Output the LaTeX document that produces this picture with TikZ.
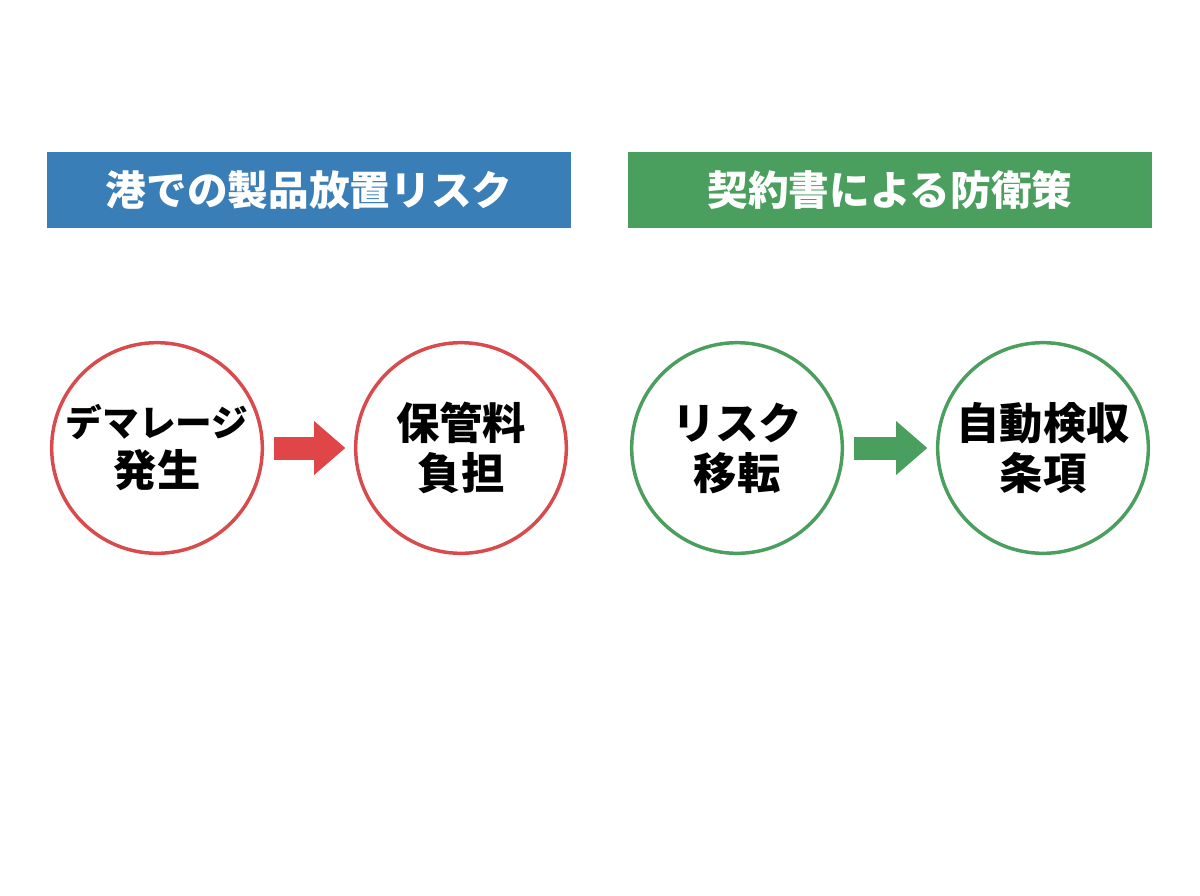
\documentclass[tikz,border=0pt]{standalone}
\usepackage{fontspec}
\setmainfont{Noto Sans CJK JP}
\usetikzlibrary{arrows.meta,positioning}
\definecolor{portblue}{HTML}{3A7EB7}
\definecolor{guardgreen}{HTML}{4A9E5E}
\definecolor{riskred}{HTML}{D94A4C}
\definecolor{arrowred}{HTML}{E04648}
\tikzset{banner/.style={fill=#1,text=white,minimum width=393pt,minimum height=57pt,inner sep=0pt,font=\bfseries\fontsize{30.5}{35}\selectfont},
 stepcirc/.style={draw=#1,line width=2.6pt,circle,minimum size=158pt,inner sep=0pt,align=center,font=\bfseries\fontsize{32.5}{37.5}\selectfont},
 blockarrow/.style={draw=#1,line width=17.25pt,-{Triangle[length=23.5pt,width=39pt]},shorten <=7.5pt,shorten >=6.4pt}}

\begin{document}
\begin{tikzpicture}[x=0.75pt,y=-0.75pt]
\useasboundingbox[fill=white] (0,0) rectangle (1200,896);
\node[banner=portblue] (risk) at (309,190) {港での製品放置リスク};
\node[banner=guardgreen] (guard) at (890,190) {契約書による防衛策};
\node[stepcirc=riskred] (demurrage) at (157,448) {{\fontsize{27.5}{37.5}\selectfont デマレージ}\\発生};
\node[stepcirc=riskred] (storage) at (461,448) {保管料\\負担};
\node[stepcirc=guardgreen] (transfer) at (737,448) {リスク\\移転};
\node[stepcirc=guardgreen] (accept) at (1043,448) {自動検収\\条項};
\draw[blockarrow=arrowred] (demurrage) -- (storage);
\draw[blockarrow=guardgreen] (transfer) -- (accept);
\end{tikzpicture}
\end{document}
